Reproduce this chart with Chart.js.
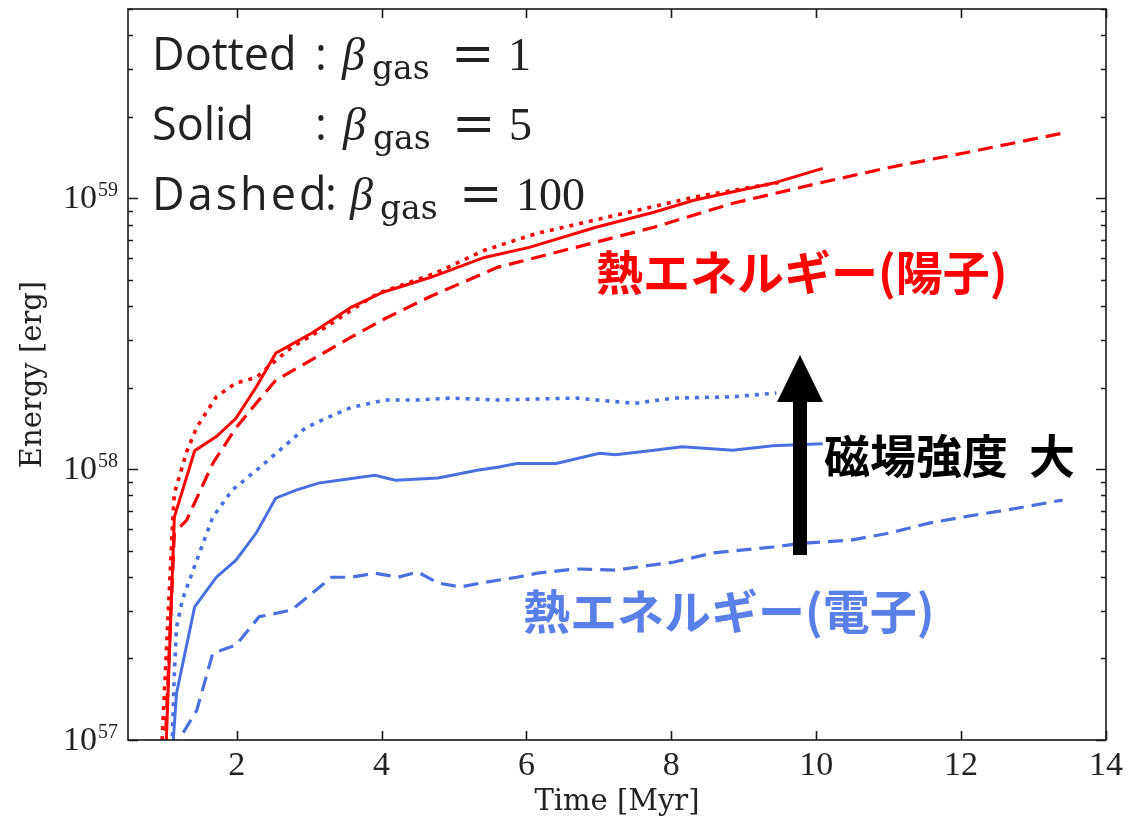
<!DOCTYPE html>
<html>
<head>
<meta charset="utf-8">
<script src="https://cdn.jsdelivr.net/npm/chart.js@4.4.1/dist/chart.umd.min.js"></script>
<style>html,body{margin:0;padding:0;background:#fff}canvas{display:block}</style>
</head>
<body>
<canvas id="c" width="1129" height="826"></canvas>
<script>
// ---- tick labels ----
const xTickValues = [2, 4, 6, 8, 10, 12, 14];
const yDecades = [57, 58, 59];

// ---- proton (red) series ----
const protonDottedTime = [0.93, 1.12, 1.14, 1.31, 1.45, 1.72, 1.99, 2.27, 2.54, 2.76, 3.23, 3.58, 3.95, 4.19, 4.74, 5.42, 6.15, 7.23, 8.31, 9.50];
const protonDottedE    = [6e56, 6.65e57, 8.15e57, 1.16e58, 1.43e58, 1.85e58, 2.08e58, 2.18e58, 2.52e58, 2.82e58, 3.34e58, 3.86e58, 4.46e58, 4.69e58, 5.29e58, 6.43e58, 7.43e58, 8.65e58, 1.01e59, 1.146e59];

const protonSolidTime = [1.00, 1.14, 1.42, 1.72, 1.99, 2.27, 2.54, 3.04, 3.58, 4.02, 4.68, 5.42, 6.04, 6.96, 7.76, 8.31, 9.40, 10.09];
const protonSolidE    = [6e56, 6.65e57, 1.17e58, 1.32e58, 1.54e58, 2.01e58, 2.68e58, 3.18e58, 3.96e58, 4.50e58, 5.11e58, 6.05e58, 6.59e58, 7.82e58, 8.88e58, 9.84e58, 1.136e59, 1.29e59];

const protonDashedTime = [0.98, 1.14, 1.31, 1.67, 1.99, 2.27, 2.54, 2.95, 3.58, 4.05, 4.68, 5.60, 6.68, 7.76, 8.85, 10.09, 11.01, 12.10, 13.40];
const protonDashedE    = [6e56, 5.81e57, 6.49e57, 1.05e58, 1.42e58, 1.75e58, 2.13e58, 2.46e58, 3.07e58, 3.60e58, 4.35e58, 5.56e58, 6.59e58, 7.82e58, 9.59e58, 1.146e59, 1.30e59, 1.48e59, 1.74e59];

// ---- electron (blue) series ----
const electronDottedTime = [1.10, 1.14, 1.17, 1.25, 1.45, 1.67, 1.94, 2.31, 2.68, 2.95, 3.23, 3.58, 4.05, 4.50, 4.95, 5.60, 6.68, 7.49, 8.04, 8.85, 9.45];
const electronDottedE    = [8e56, 1.77e57, 2.61e57, 3.29e57, 4.62e57, 6.65e57, 8.37e57, 1.01e58, 1.23e58, 1.42e58, 1.54e58, 1.69e58, 1.80e58, 1.80e58, 1.83e58, 1.80e58, 1.83e58, 1.75e58, 1.83e58, 1.85e58, 1.91e58];

const electronSolidTime = [1.10, 1.17, 1.42, 1.72, 1.99, 2.27, 2.54, 2.82, 3.13, 3.41, 3.91, 4.19, 4.78, 5.32, 5.60, 5.87, 6.41, 7.01, 7.23, 7.76, 8.15, 8.85, 9.40, 10.09];
const electronSolidE    = [8e56, 1.49e57, 3.10e57, 3.99e57, 4.61e57, 5.81e57, 7.82e57, 8.37e57, 8.88e57, 9.10e57, 9.50e57, 9.10e57, 9.27e57, 9.91e57, 1.016e58, 1.05e58, 1.05e58, 1.145e58, 1.13e58, 1.175e58, 1.21e58, 1.175e58, 1.22e58, 1.24e58];

const electronDashedTime = [1.10, 1.45, 1.67, 1.99, 2.31, 2.76, 3.31, 3.58, 3.91, 4.23, 4.50, 4.78, 5.09, 5.37, 5.87, 6.15, 6.68, 7.23, 8.04, 8.57, 9.40, 9.82, 10.48, 11.01, 11.56, 12.10, 12.64, 13.40];
const electronDashedE    = [9e56, 1.29e57, 2.09e57, 2.24e57, 2.85e57, 3.02e57, 3.99e57, 3.99e57, 4.13e57, 3.99e57, 4.17e57, 3.80e57, 3.67e57, 3.80e57, 3.99e57, 4.13e57, 4.28e57, 4.24e57, 4.54e57, 4.90e57, 5.16e57, 5.33e57, 5.47e57, 5.81e57, 6.32e57, 6.71e57, 7.07e57, 7.69e57];

const RED = '#ff0000';
const BLUE = '#4a70e0';
const DOT = [4, 6];
const DASH = [15, 8];

function pts(t, e) { return t.map((v, i) => ({x: v, y: e[i]})); }
function ds(t, e, color, dash, w) {
  return {data: pts(t, e), borderColor: color, borderWidth: w, borderDash: dash,
          pointRadius: 0, tension: 0, fill: false, clip: 0, borderCapStyle: 'butt'};
}

const decoPlugin = {
  id: 'deco',
  afterDatasetsDraw(chart) {
    const {ctx, chartArea: a, scales: {x, y}} = chart;
    ctx.save();
    ctx.strokeStyle = '#1a1a1a';
    ctx.lineWidth = 1.6;
    ctx.strokeRect(a.left, a.top, a.right - a.left, a.bottom - a.top);
    ctx.beginPath();
    for (let e = yDecades[0]; e <= yDecades[yDecades.length - 1] + 1; e++) {
      for (let m = 1; m <= 9; m++) {
        const v = m * Math.pow(10, e);
        if (v < y.min || v > y.max) continue;
        const p = Math.round(y.getPixelForValue(v)) + 0.5;
        const L = m === 1 ? 10 : 5;
        ctx.moveTo(a.left, p); ctx.lineTo(a.left + L, p);
        ctx.moveTo(a.right, p); ctx.lineTo(a.right - L, p);
      }
    }
    for (const v of xTickValues) {
      const p = Math.round(x.getPixelForValue(v)) + 0.5;
      ctx.moveTo(p, a.bottom); ctx.lineTo(p, a.bottom - 9);
      ctx.moveTo(p, a.top); ctx.lineTo(p, a.top + 9);
    }
    ctx.stroke();

    ctx.fillStyle = '#222';
    ctx.textBaseline = 'alphabetic';
    for (const e of yDecades) {
      const p = y.getPixelForValue(Math.pow(10, e));
      ctx.font = '20px "Liberation Serif"';
      const ew = ctx.measureText(String(e)).width;
      ctx.textAlign = 'right';
      ctx.fillText(String(e), a.left - 10, p - 2);
      ctx.font = '34px "Liberation Serif"';
      ctx.fillText('10', a.left - 10 - ew - 1, p + 10);
    }
    ctx.restore();
  },
  afterDraw(chart) {
    const {ctx} = chart;
    ctx.save();
    ctx.fillStyle = '#222';
    ctx.textAlign = 'left';
    ctx.textBaseline = 'alphabetic';
    const rows = [
      {lab: 'Dotted', ls: 0, colon: 315, beta: 342, val: '1', y: 70},
      {lab: 'Solid', ls: 0, colon: 315, beta: 343, val: '5', y: 140},
      {lab: 'Dashed', ls: 3, colon: 325, beta: 350, val: '100', y: 210}
    ];
    for (const r of rows) {
      ctx.font = '45px "Open Sans"';
      ctx.letterSpacing = r.ls + 'px';
      ctx.fillText(r.lab, 152, r.y);
      ctx.letterSpacing = '0px';
      ctx.fillText(':', r.colon, r.y);
      ctx.font = 'italic 46px "Liberation Serif"';
      ctx.fillText('β', r.beta, r.y);
      ctx.font = '33px "DejaVu Serif"';
      ctx.fillText('gas', r.beta + 30, r.y + 9);
      ctx.font = '52px "DejaVu Serif"';
      ctx.fillText('=', r.beta + 109, r.y + 1);
      ctx.font = '46px "Liberation Serif"';
      ctx.fillText(r.val, r.beta + 166, r.y);
    }
    ctx.textBaseline = 'middle';
    ctx.font = 'bold 47px "Noto Sans CJK JP"';
    ctx.fillStyle = RED;
    ctx.fillText('熱エネルギー(陽子)', 596, 272);
    ctx.fillStyle = '#5a7fe6';
    ctx.fillText('熱エネルギー(電子)', 523, 611);
    ctx.fillStyle = '#000';
    ctx.font = 'bold 46px "Noto Sans CJK JP"';
    ctx.fillText('磁場強度', 824, 456);
    ctx.fillText('大', 1029, 456);
    ctx.beginPath();
    ctx.moveTo(793, 555); ctx.lineTo(807, 555); ctx.lineTo(807, 402); ctx.lineTo(823, 402);
    ctx.lineTo(800, 355); ctx.lineTo(777, 402); ctx.lineTo(793, 402); ctx.closePath();
    ctx.fill();
    ctx.restore();
  }
};

new Chart(document.getElementById('c'), {
  type: 'line',
  data: {
    datasets: [
      ds(electronDashedTime, electronDashedE, BLUE, DASH, 3.2),
      ds(electronSolidTime, electronSolidE, BLUE, [], 3),
      ds(electronDottedTime, electronDottedE, BLUE, DOT, 3.6),
      ds(protonDashedTime, protonDashedE, RED, DASH, 3.2),
      ds(protonSolidTime, protonSolidE, RED, [], 3),
      ds(protonDottedTime, protonDottedE, RED, DOT, 3.6)
    ]
  },
  options: {
    responsive: false,
    animation: false,
    devicePixelRatio: 1,
    layout: {padding: {left: 0, right: 16, top: 9, bottom: 0}},
    plugins: {legend: {display: false}, tooltip: {enabled: false}},
    scales: {
      x: {
        type: 'linear', min: 0.5, max: 14,
        grid: {display: false, drawTicks: false},
        border: {display: false},
        afterBuildTicks: s => { s.ticks = xTickValues.map(v => ({value: v})); },
        afterFit: s => { s.height = 86; },
        ticks: {font: {family: 'Liberation Serif', size: 34}, color: '#222', padding: 6, maxRotation: 0},
        title: {display: true, text: 'Time [Myr]', font: {family: 'DejaVu Serif', size: 29}, color: '#222', padding: {top: 0, bottom: 6}}
      },
      y: {
        type: 'logarithmic', min: 1e57, max: 5e59,
        grid: {display: false, drawTicks: false},
        border: {display: false},
        ticks: {display: false},
        afterFit: s => { s.width = 128; },
        title: {display: true, text: 'Energy [erg]', font: {family: 'DejaVu Serif', size: 29}, color: '#222', padding: {top: 16, bottom: 0}}
      }
    }
  },
  plugins: [decoPlugin]
});
</script>
</body>
</html>
